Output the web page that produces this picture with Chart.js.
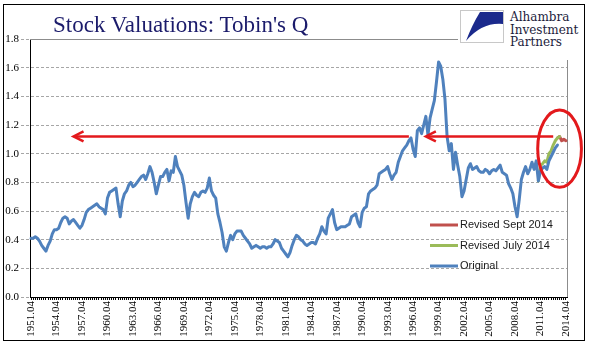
<!DOCTYPE html>
<html>
<head>
<meta charset="utf-8">
<script src="https://cdn.jsdelivr.net/npm/chart.js@4.4.1/dist/chart.umd.min.js"></script>
<style>
  body { margin: 0; background: #fff; }
  #wrap { position: relative; width: 595px; height: 361px; overflow: hidden; background: #fff; }
  #chart { position: absolute; left: 0; top: 0; }
  #frame { position: absolute; left: 3px; top: 4px; width: 580px; height: 335px; border: 1px solid #000; pointer-events: none; }
  #title { position: absolute; left: 53px; top: 13px; font: 23px "Liberation Serif", "Times New Roman", serif; line-height: 23px; color: #1b1b6b; white-space: nowrap; }
  #logo { position: absolute; left: 458px; top: 5px; width: 126px; height: 55px; background: #fff; }
  #logo svg { position: absolute; left: 2px; top: 5px; }
  #logo .name { position: absolute; left: 52px; top: 6px; font: 12px "DejaVu Serif", serif; line-height: 12.5px; color: #1c1c3c; white-space: nowrap; }
</style>
</head>
<body>
<div id="wrap">
  <canvas id="chart" width="595" height="361"></canvas>
  <div id="title">Stock Valuations: Tobin's Q</div>
  <div id="logo">
    <svg width="44" height="33" viewBox="0 0 44 33">
      <rect x="0.5" y="0.5" width="43" height="32" fill="#fff" stroke="#c8c8c8"/>
      <path d="M20,2 L43,2 L43,14 Q22,12 6,31 Q12,15 20,2 Z" fill="#1b2a8c"/>
    </svg>
    <div class="name">Alhambra<br>Investment<br>Partners</div>
  </div>
  <div id="frame"></div>
</div>
<script>
// quarterly categories, 1951 Q4 .. 2014 Q4
const quarters = [];
for (let y = 1951; y <= 2014; y++) {
  for (let q = 1; q <= 4; q++) {
    if (y === 1951 && q < 4) continue;
    quarters.push(y + ".0" + q);
  }
}

const tickLabels = ["1951.04", "1954.04", "1957.04", "1960.04", "1963.04", "1966.04",
  "1969.04", "1972.04", "1975.04", "1978.04", "1981.04", "1984.04", "1987.04",
  "1990.04", "1993.04", "1996.04", "1999.04", "2002.04", "2005.04", "2008.04",
  "2011.04", "2014.04"];

const yTicks = [0, 0.2, 0.4, 0.6, 0.8, 1.0, 1.2, 1.4, 1.6, 1.8];

// Original series, from 1951.04
const original = [
  0.41,
  0.41, 0.42, 0.41, 0.39,
  0.36, 0.34, 0.32, 0.36,
  0.39, 0.44, 0.47, 0.47,
  0.48, 0.52, 0.55, 0.56,
  0.55, 0.51, 0.53, 0.54,
  0.52, 0.50, 0.48, 0.50,
  0.54, 0.59, 0.61, 0.62,
  0.63, 0.64, 0.65, 0.63,
  0.62, 0.61, 0.58, 0.69,
  0.73, 0.74, 0.75, 0.76,
  0.65, 0.56, 0.67, 0.72,
  0.74, 0.78, 0.80, 0.77,
  0.78, 0.80, 0.82, 0.84,
  0.85, 0.82, 0.86, 0.91,
  0.87, 0.80, 0.72, 0.78,
  0.84, 0.84, 0.87, 0.89,
  0.81, 0.88, 0.87, 0.98,
  0.91, 0.88, 0.85, 0.78,
  0.66, 0.55, 0.65, 0.70,
  0.73, 0.71, 0.70, 0.73,
  0.74, 0.73, 0.76, 0.83,
  0.74, 0.71, 0.69, 0.58,
  0.52, 0.45, 0.35, 0.32,
  0.38, 0.43, 0.40, 0.44,
  0.46, 0.46, 0.46, 0.43,
  0.41, 0.39, 0.37, 0.34,
  0.35, 0.36, 0.35, 0.34,
  0.35, 0.35, 0.34, 0.35,
  0.35, 0.37, 0.40, 0.39,
  0.38, 0.34, 0.32, 0.30,
  0.28, 0.31, 0.36, 0.40,
  0.43, 0.42, 0.40, 0.39,
  0.37, 0.36, 0.37, 0.38,
  0.38, 0.37, 0.41, 0.44,
  0.49, 0.46, 0.44, 0.55,
  0.58, 0.61, 0.52, 0.47,
  0.48, 0.49, 0.49, 0.49,
  0.50, 0.51, 0.56, 0.57,
  0.58, 0.52, 0.49, 0.59,
  0.62, 0.63, 0.72, 0.74,
  0.75, 0.76, 0.78, 0.86,
  0.87, 0.88, 0.89, 0.91,
  0.86, 0.82, 0.85, 0.87,
  0.94, 0.98, 1.02, 1.04,
  1.06, 1.09, 1.11, 1.03,
  0.98, 1.16, 1.18, 1.14,
  1.20, 1.26, 1.13, 1.25,
  1.31, 1.37, 1.50, 1.64,
  1.61, 1.52, 1.38, 1.12,
  1.02, 1.07, 0.89, 1.01,
  0.92, 0.84, 0.70, 0.74,
  0.82, 0.90, 0.93, 0.89,
  0.90, 0.91, 0.88, 0.87,
  0.87, 0.89, 0.88, 0.86,
  0.88, 0.89, 0.88, 0.90,
  0.92, 0.87, 0.86, 0.85,
  0.79, 0.76, 0.72, 0.63,
  0.56, 0.68, 0.82, 0.87,
  0.91, 0.86, 0.89, 0.94,
  0.89, 0.95, 0.81, 0.88,
  0.90, 0.91, 0.89, 0.95,
  0.98, 1.01, 1.04, 1.06
];

// revisions only differ at the end
const julyStart = "2011.03";
const revisedJuly = [0.81, 0.92, 0.93, 0.95, 0.94, 1.00, 1.02, 1.06, 1.09, 1.11, 1.12];
const septStart = "2013.04";
const revisedSept = [1.11, 1.12, 1.09, 1.10, 1.09];

// red markup drawn over the chart
const arrows = [
  { from: "1996.02", to: "1956.04", value: 1.12 },
  { from: "2013.02", to: "1998.02", value: 1.12 }
];
const ring = { center: "2014.01", value: 1.035, quarters: 10.3, halfHeight: 0.27 };

function alignTo(start, values) {
  const out = new Array(quarters.length).fill(null);
  const i0 = quarters.indexOf(start);
  values.forEach((v, i) => { out[i0 + i] = v; });
  return out;
}

const frameLines = {
  id: "frameLines",
  beforeDatasetsDraw(chart) {
    const { ctx, chartArea: a } = chart;
    ctx.save();
    ctx.strokeStyle = "#8c8c8c";
    ctx.lineWidth = 1;
    ctx.beginPath();
    ctx.moveTo(a.left, Math.round(a.top) + 0.5);
    ctx.lineTo(Math.round(a.right) + 0.5, Math.round(a.top) + 0.5);
    ctx.lineTo(Math.round(a.right) + 0.5, a.bottom);
    ctx.stroke();
    ctx.restore();
  }
};

const insideLegend = {
  id: "insideLegend",
  afterDatasetsDraw(chart) {
    const { ctx, chartArea: a } = chart;
    const sets = chart.data.datasets.slice().reverse();
    ctx.save();
    ctx.font = '11px "Liberation Sans", Arial, sans-serif';
    ctx.textBaseline = "middle";
    sets.forEach((ds, i) => {
      const y = a.bottom - 72 + i * 20.5;
      const x = a.right - 137;
      ctx.strokeStyle = ds.borderColor;
      ctx.lineWidth = 3;
      ctx.beginPath();
      ctx.moveTo(x, y);
      ctx.lineTo(x + 28, y);
      ctx.stroke();
      ctx.fillStyle = "#1a1a1a";
      ctx.fillText(ds.label, x + 30, y);
    });
    ctx.restore();
  }
};

const redMarks = {
  id: "redMarks",
  afterDatasetsDraw(chart) {
    const { ctx, scales: { x, y } } = chart;
    ctx.save();
    ctx.strokeStyle = "#e3191c";
    ctx.lineCap = "butt";
    ctx.lineWidth = 2.5;
    arrows.forEach(ar => {
      const x1 = x.getPixelForValue(quarters.indexOf(ar.from));
      const x2 = x.getPixelForValue(quarters.indexOf(ar.to));
      const py = y.getPixelForValue(ar.value);
      ctx.beginPath();
      ctx.moveTo(x1, py);
      ctx.lineTo(x2 + 1, py);
      ctx.stroke();
      ctx.beginPath();
      ctx.moveTo(x2 + 10, py - 5);
      ctx.lineTo(x2, py);
      ctx.lineTo(x2 + 10, py + 5);
      ctx.stroke();
    });
    const ci = quarters.indexOf(ring.center);
    const cx = x.getPixelForValue(ci);
    const rx = x.getPixelForValue(ci) - x.getPixelForValue(ci - ring.quarters);
    const cy = y.getPixelForValue(ring.value);
    const ry = y.getPixelForValue(ring.value - ring.halfHeight) - cy;
    ctx.lineWidth = 3;
    ctx.beginPath();
    ctx.ellipse(cx, cy, rx, ry, 0, 0, Math.PI * 2);
    ctx.stroke();
    ctx.restore();
  }
};

const serif = '"Liberation Serif", "Times New Roman", serif';

new Chart(document.getElementById("chart"), {
  type: "line",
  data: {
    labels: quarters,
    datasets: [
      { label: "Original", data: original, borderColor: "#4f81bd" },
      { label: "Revised July 2014", data: alignTo(julyStart, revisedJuly), borderColor: "#9bbb59" },
      { label: "Revised Sept 2014", data: alignTo(septStart, revisedSept), borderColor: "#c0504d" }
    ]
  },
  options: {
    responsive: false,
    animation: false,
    layout: { padding: { top: 39, right: 28, left: 0, bottom: 0 } },
    elements: {
      line: { borderWidth: 3, tension: 0, borderJoinStyle: "round", borderCapStyle: "round" },
      point: { radius: 0, hoverRadius: 0 }
    },
    plugins: { legend: { display: false }, tooltip: { enabled: false } },
    scales: {
      x: {
        offset: true,
        afterFit(scale) { scale.height = 64; },
        grid: { drawOnChartArea: false, drawTicks: true, tickLength: 3, color: "#000", tickColor: "#000" },
        border: { color: "#000", width: 1 },
        ticks: {
          autoSkip: false,
          minRotation: 90,
          maxRotation: 90,
          padding: 1,
          color: "#000",
          font: { family: serif, size: 11 },
          callback(value) {
            const lab = this.getLabelForValue(value);
            return tickLabels.includes(lab) ? lab : "";
          }
        }
      },
      y: {
        min: 0,
        max: 1.8,
        afterFit(scale) { scale.width = 30; },
        afterBuildTicks(scale) { scale.ticks = yTicks.map(v => ({ value: v })); },
        grid: { color: "#a6a6a6", tickColor: "#a6a6a6", tickLength: 9, tickBorderDash: [3, 2] },
        border: { color: "#000", width: 1, dash: [3, 2] },
        ticks: {
          padding: 2,
          color: "#000",
          font: { family: serif, size: 11 },
          callback: v => v.toFixed(1)
        }
      }
    }
  },
  plugins: [frameLines, insideLegend, redMarks]
});
</script>
</body>
</html>
